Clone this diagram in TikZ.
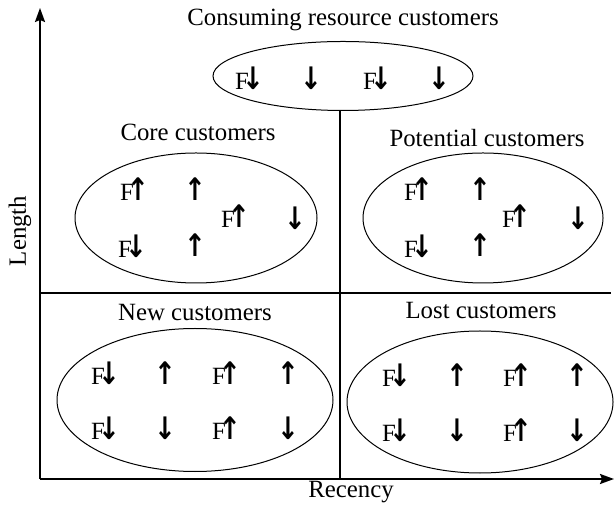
\documentclass[tikz,border=0pt]{standalone}
\usepackage{fontspec}
\setmainfont{Liberation Serif}
\newfontfamily\arrowfont{DejaVu Sans}
\usetikzlibrary{arrows.meta,shapes.geometric}

\tikzstyle{group}=[ellipse, draw, line width=0.5pt, inner sep=0pt]
\tikzstyle{label}=[font=\fontsize{12.4}{14}\selectfont]
\tikzstyle{item}=[font=\fontsize{12.4}{14}\selectfont, inner sep=0pt]
\tikzstyle{axis}=[line width=1pt, -{Stealth[length=7pt,width=5pt,inset=1pt]}]
\tikzstyle{divider}=[line width=1pt]

\newcommand{\au}{\scalebox{1.05}[1.25]{\arrowfont\bfseries ↑}}
\newcommand{\ad}{\scalebox{1.05}[1.25]{\arrowfont\bfseries ↓}}
\newcommand{\Fu}{F\kern-3pt\au}
\newcommand{\Fd}{F\kern-3pt\ad}

\begin{document}
\begin{tikzpicture}[x=0.5pt, y=-0.5pt]
    \useasboundingbox (0,0) rectangle (614,506);

    % axes
    \coordinate (o)  at (40,479);
    \coordinate (ly) at (40,8);
    \coordinate (lx) at (614,479);
    \draw[axis] (o) -- (ly);
    \draw[axis] (o) -- (lx);
    \node[label, rotate=90] (length)  at (20,231)  {Length};
    \node[label]            (recency) at (351,492) {Recency};

    % groups
    \node[group, minimum width=130pt, minimum height=34.5pt] (cons) at (343,76)  {};
    \node[group, minimum width=121pt, minimum height=65pt]   (core) at (196,218) {};
    \node[group, minimum width=120pt, minimum height=65pt]   (pot)  at (483,218) {};
    \node[group, minimum width=138pt, minimum height=71.5pt] (new)  at (195,400) {};
    \node[group, minimum width=133pt, minimum height=71pt]   (lost) at (480,402) {};

    % dividers
    \coordinate (mt) at (340,111);
    \coordinate (mb) at (340,479);
    \coordinate (ml) at (40,293);
    \coordinate (mr) at (611,293);
    \draw[divider] (mt) -- (mb);
    \draw[divider] (ml) -- (mr);

    % titles
    \node[label] (tcons) at (343,20)  {Consuming resource customers};
    \node[label] (tcore) at (198,132) {Core customers};
    \node[label] (tpot)  at (487,138) {Potential customers};
    \node[label] (tnew)  at (195,313) {New customers};
    \node[label] (tlost) at (481,311) {Lost customers};

    % items
    \foreach \t/\x/\y [count=\i] in {\Fd/250/78, \ad/311/78, \Fd/378/78, \ad/439/78}
        \node[item] (cons\i) at (\x,\y) {\t};
    \foreach \t/\x/\y [count=\i] in {\Fu/135/189, \au/195/189, \Fu/236/216, \ad/295/218, \Fd/133/246, \au/195/245}
        \node[item] (core\i) at (\x,\y) {\t};
    \foreach \t/\x/\y [count=\i] in {\Fu/419/189, \au/480/189, \Fu/517/216, \ad/578/218, \Fd/419/246, \au/480/245}
        \node[item] (pot\i) at (\x,\y) {\t};
    \foreach \t/\x/\y [count=\i] in {\Fd/106/373, \au/165/373, \Fu/227/373, \au/288/373,
                                     \Fd/106/428, \ad/165/428, \Fu/227/428, \ad/288/428}
        \node[item] (new\i) at (\x,\y) {\t};
    \foreach \t/\x/\y [count=\i] in {\Fd/397/375, \au/457/375, \Fu/518/375, \au/577/375,
                                     \Fd/397/430, \ad/457/430, \Fu/518/430, \ad/577/430}
        \node[item] (lost\i) at (\x,\y) {\t};
\end{tikzpicture}
\end{document}
